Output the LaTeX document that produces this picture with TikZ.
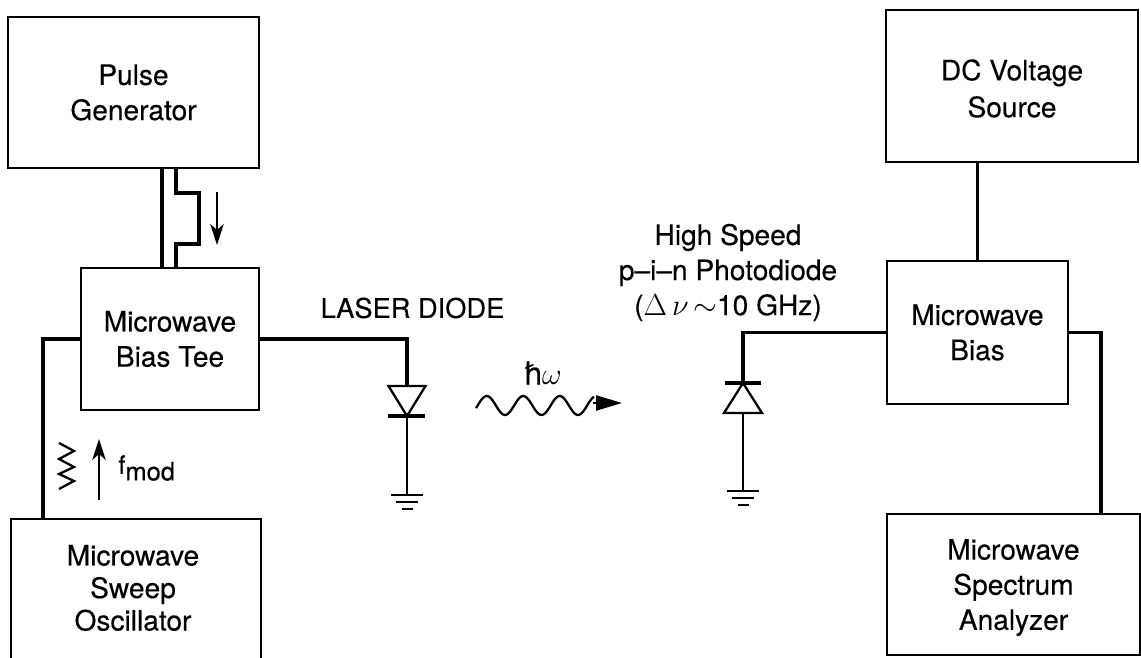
\documentclass[tikz,border=0pt]{standalone}
\usepackage{fontspec}
\setmainfont{TeX Gyre Heros}[FakeBold=0.3]
\usetikzlibrary{arrows.meta}
\tikzset{
  blockbox/.style={draw, line width=1.3pt, inner sep=0pt},
  blocktext/.style={align=center, inner sep=0pt, font=\fontsize{16}{20}\selectfont},
  wire/.style={line width=1.8pt},
  thinwire/.style={line width=1.3pt},
  flowarrow/.style={line width=1pt, -{Stealth[length=0.42cm, width=0.27cm, inset=0.12cm]}}
}
\begin{document}
\begin{tikzpicture}
\clip (0, 0) rectangle (22.82, -13.16);

\node[blockbox, blocktext, minimum width=5.02cm, minimum height=3.02cm] (pulsebox)
  at (2.67, -1.85) {Pulse\\Generator};
\node[blockbox, blocktext, minimum width=3.56cm, minimum height=2.84cm] (teebox)
  at (3.40, -6.78) {Microwave\\Bias Tee};
\node[blockbox, minimum width=5.00cm, minimum height=3.02cm] (sweepbox)
  at (2.72, -11.89) {};
\node[blocktext, font=\fontsize{16}{18.5}\selectfont] (sweeptext)
  at (2.66, -11.76) {Microwave\\Sweep\\Oscillator};
\node[blockbox, minimum width=5.04cm, minimum height=3.04cm] (dcbox)
  at (20.24, -1.72) {};
\node[blocktext, font=\fontsize{16}{21}\selectfont] (dctext)
  at (20.24, -1.77) {DC Voltage\\Source};
\node[blockbox, blocktext, minimum width=3.62cm, minimum height=2.86cm] (biasbox)
  at (19.55, -6.65) {Microwave\\Bias};
\node[blockbox, minimum width=5.06cm, minimum height=2.82cm] (specbox)
  at (20.27, -11.69) {};
\node[blocktext] (spectext)
  at (20.27, -11.75) {Microwave\\Spectrum\\Analyzer};

\node[blocktext, font=\fontsize{15.5}{20}\selectfont] (laserlabel) at (8.25, -6.16) {LASER DIODE};
\node[blocktext] (photolabel) at (14.56, -5.45)
  {High Speed\\p--i--n Photodiode\\($\Delta\,\nu$\,$\sim$10 GHz)};
\node[blocktext, anchor=west, font=\fontsize{14.5}{18}\selectfont] (fmodlabel) at (2.36, -9.36)
  {f\raisebox{-0.13cm}{mod}};
\node[blocktext, font=\fontsize{18}{20}\selectfont] (hbarlabel) at (10.85, -7.46) {ħ$\omega$};

\coordinate (laseranode) at (8.14, -7.72);
\coordinate (lasercathode) at (8.14, -8.32);
\coordinate (laserground) at (8.14, -9.90);
\coordinate (photocathode) at (14.86, -7.66);
\coordinate (photoanode) at (14.86, -8.26);
\coordinate (photoground) at (14.86, -9.82);

\draw[wire] (pulsebox.south -| 3.24,0) -- (teebox.north -| 3.24,0);
\draw[wire] (pulsebox.south -| 3.52,0) -- (3.52, -3.86) -- (3.98, -3.86)
  -- (3.98, -4.88) -- (3.52, -4.88) -- (teebox.north -| 3.52,0);
\draw[flowarrow] (4.34, -3.84) -- (4.34, -4.90);

\draw[wire] (teebox.west) -| (sweepbox.north -| 0.86,0);
\draw[flowarrow] (1.98, -10.00) -- (1.98, -8.78);
\draw[thinwire] (1.18, -8.86) -- (1.48, -9.02) -- (1.18, -9.18) -- (1.48, -9.34)
  -- (1.18, -9.48) -- (1.48, -9.62) -- (1.18, -9.78);

\draw[wire] (teebox.east) -| (laseranode);
\draw[thinwire] (laseranode) ++(-0.37, 0) -- ++(0.74, 0) -- (lasercathode) -- cycle;
\draw[wire] (7.76, -8.32) -- (8.50, -8.32);
\draw[thinwire] (lasercathode) -- (laserground);

\draw[wire] (biasbox.west) -| (photocathode);
\draw[wire] (14.50, -7.66) -- (15.22, -7.66);
\draw[thinwire] (photocathode) -- ++(0.38, -0.60) -- ++(-0.76, 0) -- cycle;
\draw[thinwire] (photoanode) -- (photoground);

\foreach \g in {laserground, photoground} {
  \draw[thinwire] (\g) ++(-0.32, 0) -- ++(0.64, 0);
  \draw[thinwire] (\g) ++(-0.22, -0.14) -- ++(0.44, 0);
  \draw[thinwire] (\g) ++(-0.11, -0.28) -- ++(0.22, 0);
}

\draw[thinwire, domain=9.52:11.88, samples=80, smooth]
  plot (\x, {-8.11 - 0.19 * cos(493 * (\x - 10.1))});
\draw[thinwire, -{Triangle[length=0.52cm, width=0.30cm]}] (11.86, -8.06) -- (12.44, -8.06);

\draw[wire] (dcbox.south -| biasbox.north) -- (biasbox.north);
\draw[wire] (biasbox.east) -| (specbox.north -| 22.02,0);
\end{tikzpicture}
\end{document}
